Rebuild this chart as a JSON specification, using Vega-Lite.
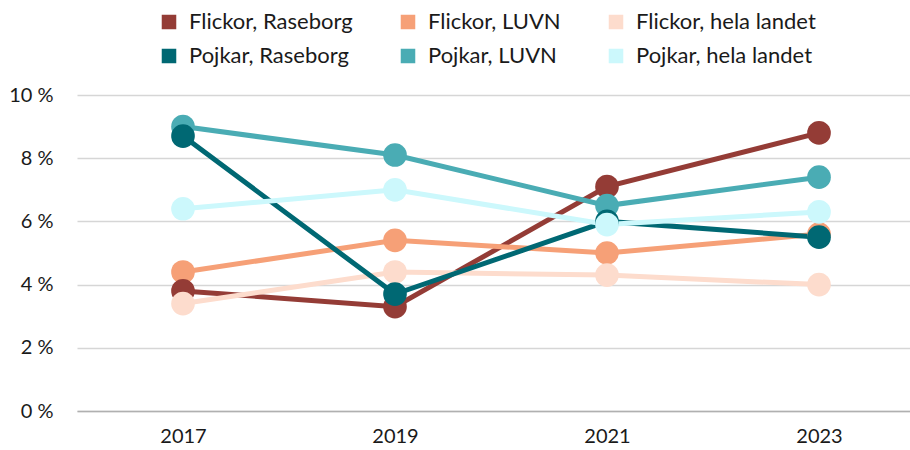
{
  "$schema": "https://vega.github.io/schema/vega-lite/v6.json",
  "width": 848,
  "height": 316,
  "autosize": {"type": "none"},
  "padding": {"left": 77, "top": 95, "right": 0, "bottom": 39},
  "background": "white",
  "config": {
    "font": "Lato",
    "view": {"stroke": null},
    "axis": {"labelFont": "Lato", "labelFontSize": 20, "labelColor": "#1a1a1a"}
  },
  "data": {
    "values": [
      {"serie": "Flickor, Raseborg", "ar": "2017", "v": 3.8},
      {"serie": "Flickor, Raseborg", "ar": "2019", "v": 3.3},
      {"serie": "Flickor, Raseborg", "ar": "2021", "v": 7.1},
      {"serie": "Flickor, Raseborg", "ar": "2023", "v": 8.8},
      {"serie": "Flickor, LUVN", "ar": "2017", "v": 4.4},
      {"serie": "Flickor, LUVN", "ar": "2019", "v": 5.4},
      {"serie": "Flickor, LUVN", "ar": "2021", "v": 5.0},
      {"serie": "Flickor, LUVN", "ar": "2023", "v": 5.6},
      {"serie": "Flickor, hela landet", "ar": "2017", "v": 3.4},
      {"serie": "Flickor, hela landet", "ar": "2019", "v": 4.4},
      {"serie": "Flickor, hela landet", "ar": "2021", "v": 4.3},
      {"serie": "Flickor, hela landet", "ar": "2023", "v": 4.0},
      {"serie": "Pojkar, Raseborg", "ar": "2017", "v": 8.7},
      {"serie": "Pojkar, Raseborg", "ar": "2019", "v": 3.7},
      {"serie": "Pojkar, Raseborg", "ar": "2021", "v": 6.0},
      {"serie": "Pojkar, Raseborg", "ar": "2023", "v": 5.5},
      {"serie": "Pojkar, LUVN", "ar": "2017", "v": 9.0},
      {"serie": "Pojkar, LUVN", "ar": "2019", "v": 8.1},
      {"serie": "Pojkar, LUVN", "ar": "2021", "v": 6.5},
      {"serie": "Pojkar, LUVN", "ar": "2023", "v": 7.4},
      {"serie": "Pojkar, hela landet", "ar": "2017", "v": 6.4},
      {"serie": "Pojkar, hela landet", "ar": "2019", "v": 7.0},
      {"serie": "Pojkar, hela landet", "ar": "2021", "v": 5.9},
      {"serie": "Pojkar, hela landet", "ar": "2023", "v": 6.3}
    ]
  },
  "encoding": {
    "x": {
      "field": "ar", "type": "ordinal",
      "scale": {"type": "point", "padding": 0.5},
      "axis": {"title": null, "labelAngle": 0, "ticks": false, "domain": true, "domainColor": "#b0b0b0", "domainWidth": 1.5, "labelPadding": 15}
    },
    "y": {
      "field": "v", "type": "quantitative",
      "scale": {"domain": [0, 10]},
      "axis": {"title": null, "values": [0, 2, 4, 6, 8, 10], "labelExpr": "datum.value + ' %'", "domain": false, "ticks": false, "gridColor": "#d6d6d6", "gridWidth": 1.5, "labelPadding": 24}
    },
    "color": {
      "field": "serie", "type": "nominal",
      "scale": {
        "domain": ["Flickor, Raseborg", "Flickor, LUVN", "Flickor, hela landet", "Pojkar, Raseborg", "Pojkar, LUVN", "Pojkar, hela landet"],
        "range": ["#943c36", "#f6a077", "#fddccd", "#006873", "#4aacb4", "#ccf8fc"]
      },
      "legend": {
        "title": null, "orient": "none", "legendX": 81, "legendY": -84, "direction": "horizontal", "columns": 3,
        "symbolType": "square", "symbolSize": 170, "labelFontSize": 22, "labelColor": "#1a1a1a", "labelFont": "Lato",
        "labelLimit": 400, "columnPadding": 44, "rowPadding": 12, "labelOffset": 9
      }
    },
    "order": {"field": "serie"}
  },
  "layer": [
    {"mark": {"type": "line", "strokeWidth": 5}},
    {"mark": {"type": "circle", "size": 560, "opacity": 1}}
  ]
}
